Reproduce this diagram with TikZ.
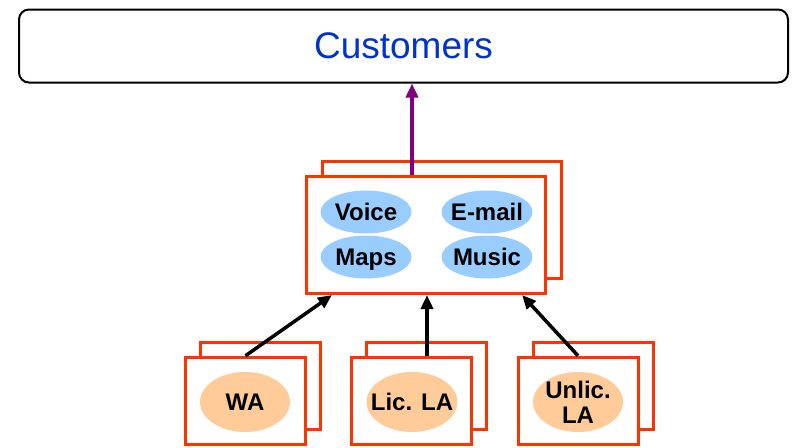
\documentclass[tikz,border=0pt]{standalone}
\usepackage{fontspec}
\setmainfont{Liberation Sans}
\usetikzlibrary{shapes.geometric, arrows.meta, positioning}
\definecolor{brick}{HTML}{FF3300}
\definecolor{bubble}{HTML}{99CCFF}
\definecolor{peach}{HTML}{FFCC99}
\definecolor{custblue}{HTML}{0033CC}
\definecolor{plum}{HTML}{800080}
\tikzstyle{card} = [rectangle, draw=brick, line width=3pt, fill=white, minimum width=120pt, minimum height=87pt]
\tikzstyle{bigcard} = [rectangle, draw=brick, line width=3pt, fill=white, minimum width=239pt, minimum height=117pt]
\tikzstyle{svcitem} = [ellipse, fill=bubble, inner xsep=-4pt, inner ysep=0pt, text height=17pt, text depth=0pt, minimum width=91pt, minimum height=43pt, font=\fontsize{24}{26}\selectfont\bfseries]
\tikzstyle{access} = [ellipse, fill=peach, inner sep=-9pt, minimum width=90pt, minimum height=60pt, align=center, font=\fontsize{24}{25}\selectfont\bfseries]
\tikzstyle{uplink} = [line width=3.5pt, -{Triangle[length=14pt,width=12pt]}]
\begin{document}
\begin{tikzpicture}[x=1pt, y=-1pt]
        \useasboundingbox (0,0) rectangle (810,447);
        % customers
        \node (cust) [rectangle, rounded corners=10pt, draw=black, line width=2pt, minimum width=769pt, minimum height=73pt, font=\fontsize{37}{40}\selectfont, text=custblue] at (403.5,46) {Customers};
        % services box
        \node (svcback) [bigcard] at (441.5,219.5) {};
        \node (svc) [bigcard] at (426,235) {};
        \node (voice) [svcitem] at (366,212) {Voice};
        \node (email) [svcitem] at (487,212) {E-mail};
        \node (maps) [svcitem] at (366,257) {Maps};
        \node (music) [svcitem] at (487,257) {Music};
        % access boxes
        \node (waback) [card] at (260.5,386) {};
        \node (wa) [card] at (245.5,400.75) {};
        \node (waname) [access] at (245,402) {WA};
        \node (licback) [card] at (426.5,386) {};
        \node (lic) [card] at (411.5,400.75) {};
        \node (licname) [access] at (412,402) {Lic. LA};
        \node (unlicback) [card] at (593,386) {};
        \node (unlic) [card] at (578,400.75) {};
        \node (unlicname) [access] at (578,402) {Unlic.\\LA};
        % links
        \draw [uplink] (wa.north) -- ([xshift=27pt]svc.south west);
        \draw [uplink] ([xshift=15.5pt]lic.north) -- ([xshift=15.5pt]lic.north |- svc.south);
        \draw [uplink] (unlic.north) -- ([xshift=-25pt]svc.south east);
        \coordinate (up) at ([xshift=-14pt]svc.north);
        \draw [uplink, draw=plum, fill=plum] (up) -- (up |- cust.south);
\end{tikzpicture}
\end{document}
